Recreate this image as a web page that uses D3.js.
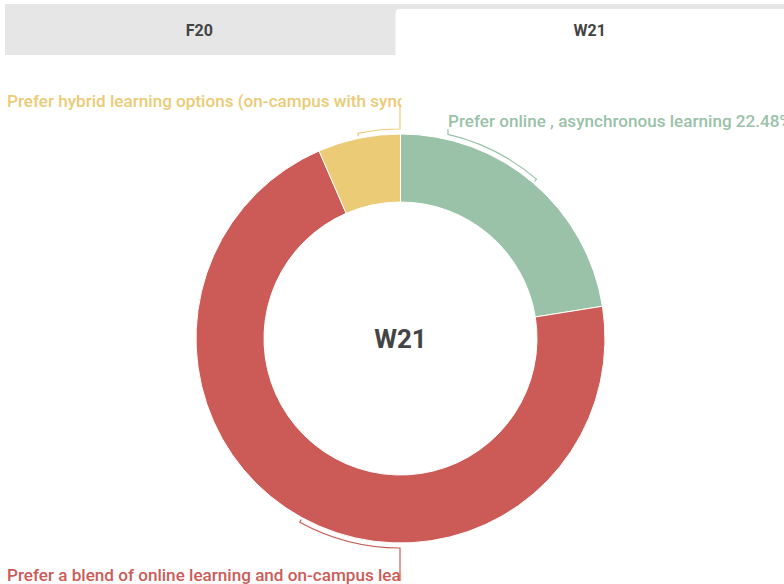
<!DOCTYPE html>
<html>
<head>
<meta charset="utf-8">
<script src="https://cdn.jsdelivr.net/npm/d3@7"></script>
<style>
  html, body { margin: 0; padding: 0; background: #fff; }
  svg { display: block; font-family: Roboto, "Noto Sans", sans-serif; }
</style>
</head>
<body>
<svg id="chart" width="784" height="584"></svg>
<script>
// data
const tabs = ["F20", "W21"];
const activeTab = "W21";
const categories = [
  "Prefer online , asynchronous learning",
  "Prefer a blend of online learning and on-campus learning",
  "Prefer hybrid learning options (on-campus with synchronous online)"
];
const values = [22.48, 71.0, 6.52];
const colors = ["#99c2a8", "#cc5b57", "#eccb76"];

// where each label sits (x where the leader meets the text, text baseline)
const labelLayout = [
  { side: "right", anchorX: 448, textX: 448, baseline: 127, leaderEnd: 129 },
  { side: "left", anchorX: 400, textX: 7, baseline: 581, leaderEnd: 581 },
  { side: "left", anchorX: 400, textX: 7, baseline: 107, leaderEnd: 104 }
];

const svg = d3.select("#chart"),
  width = +svg.attr("width"),
  height = +svg.attr("height");

// tab bar
const tabTop = 4, tabBottom = 55, tabLeft = 5;
const tabX = d3.scaleBand().domain(tabs).range([tabLeft, width + 2]);

svg.append("rect")
  .attr("x", tabLeft)
  .attr("y", tabTop)
  .attr("width", width - tabLeft)
  .attr("height", tabBottom - tabTop)
  .attr("fill", "#e6e6e6");

const ax0 = tabX(activeTab), ax1 = ax0 + tabX.bandwidth(), ay0 = tabTop + 5, rr = 4;
svg.append("path")
  .attr("d", `M${ax0},${tabBottom}V${ay0 + rr}Q${ax0},${ay0} ${ax0 + rr},${ay0}H${ax1}V${tabBottom}Z`)
  .attr("fill", "#fff");

svg.selectAll("text.tab")
  .data(tabs)
  .join("text")
  .attr("class", "tab")
  .attr("x", d => tabX(d) + tabX.bandwidth() / 2 - 1)
  .attr("y", 30)
  .attr("dy", "0.35em")
  .attr("text-anchor", "middle")
  .attr("font-size", 16)
  .attr("font-weight", 700)
  .attr("fill", "#444")
  .text(d => d);

// donut
const cx = 400.5, cy = 338.5, outerR = 204.5, innerR = 136.5;
const g = svg.append("g").attr("transform", `translate(${cx},${cy})`);

const pie = d3.pie().sort(null).value(d => d.value);
const arcs = pie(categories.map((c, i) => ({ name: c, value: values[i], color: colors[i], layout: labelLayout[i] })));

const arc = d3.arc().innerRadius(innerR).outerRadius(outerR);

g.selectAll("path.slice")
  .data(arcs)
  .join("path")
  .attr("class", "slice")
  .attr("d", arc)
  .attr("fill", d => d.data.color)
  .attr("stroke", "#fff")
  .attr("stroke-width", 1);

g.append("text")
  .attr("y", 0)
  .attr("dy", "0.35em")
  .attr("text-anchor", "middle")
  .attr("font-size", 26)
  .attr("font-weight", 700)
  .attr("fill", "#444")
  .text(activeTab);

// brackets + leaders
const bracketR = outerR + 5, tickR = outerR + 2;
function anchorAngle(d) {
  const L = d.data.layout;
  const mid = (d.startAngle + d.endAngle) / 2;
  let a = Math.asin((L.anchorX - cx) / bracketR); // top half
  if (Math.cos(mid) < 0) a = Math.PI - a; // bottom half
  if (a < 0) a += 2 * Math.PI;
  // pick the branch nearest to mid
  if (Math.abs(a + 2 * Math.PI - mid) < Math.abs(a - mid)) a += 2 * Math.PI;
  return a;
}
function bracketPath(d) {
  const L = d.data.layout;
  const mid = (d.startAngle + d.endAngle) / 2;
  const a1 = anchorAngle(d);
  const p = d3.path();
  p.moveTo(tickR * Math.sin(mid), -tickR * Math.cos(mid));
  p.lineTo(bracketR * Math.sin(mid), -bracketR * Math.cos(mid));
  p.arc(0, 0, bracketR, mid - Math.PI / 2, a1 - Math.PI / 2, a1 < mid);
  p.lineTo(L.anchorX - cx, L.leaderEnd - cy);
  return p.toString();
}

g.selectAll("path.bracket")
  .data(arcs)
  .join("path")
  .attr("class", "bracket")
  .attr("d", bracketPath)
  .attr("fill", "none")
  .attr("stroke", d => d.data.color)
  .attr("stroke-width", 1.2);

// labels, left ones are cut at the chart centre
svg.append("clipPath")
  .attr("id", "leftClip")
  .append("rect")
  .attr("x", 0).attr("y", 0)
  .attr("width", cx + 1).attr("height", height);

svg.selectAll("text.label")
  .data(arcs)
  .join("text")
  .attr("class", "label")
  .attr("x", d => d.data.layout.textX)
  .attr("y", d => d.data.layout.baseline)
  .attr("clip-path", d => d.data.layout.side === "left" ? "url(#leftClip)" : null)
  .attr("font-size", 17.1)
  .attr("font-weight", 500)
  .attr("fill", d => d.data.color)
  .text(d => d.data.name + " " + d.data.value.toFixed(2) + "%");
</script>
</body>
</html>
